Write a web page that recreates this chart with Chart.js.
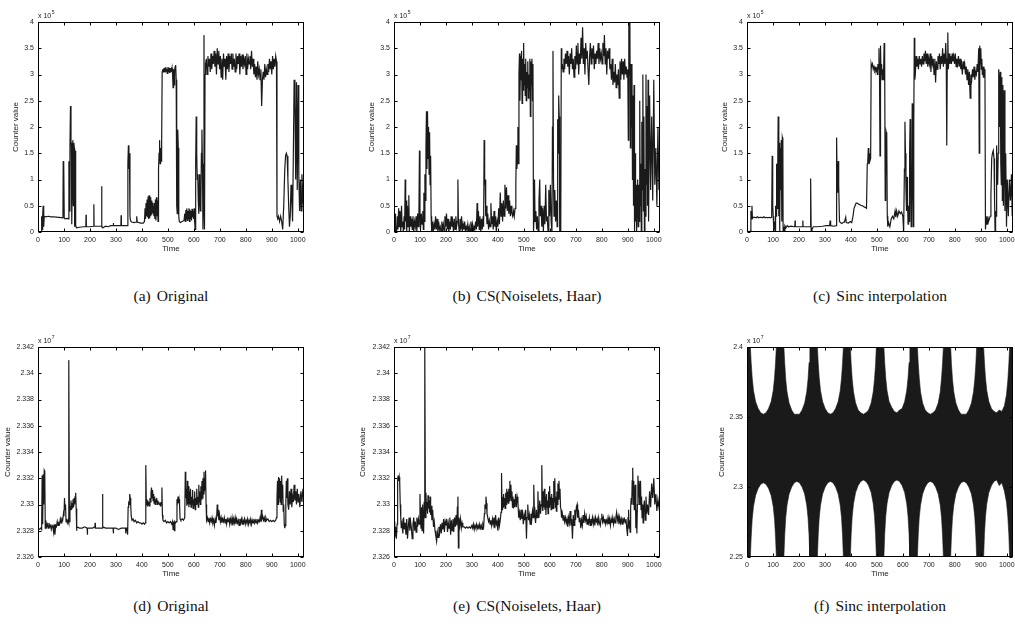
<!DOCTYPE html>
<html>
<head>
<meta charset="utf-8">
<script src="https://cdn.jsdelivr.net/npm/chart.js@4.4.0/dist/chart.umd.min.js"></script>
<style>
  html, body { margin: 0; padding: 0; background: #fff; }
  body { width: 1015px; height: 624px; position: relative; overflow: hidden; }
  canvas { position: absolute; }
  .cap {
    position: absolute;
    font-family: "Liberation Serif", "DejaVu Serif", serif;
    font-size: 15.5px;
    color: #111;
    white-space: nowrap;
    transform: translate(-50%, -50%);
  }
  .cap b { font-weight: normal; margin-right: 6px; }
</style>
</head>
<body>
<script>
// ---- tick values -------------------------------------------------------
const timeTicks = [0, 100, 200, 300, 400, 500, 600, 700, 800, 900, 1000];
const counterTicksTop = [0, 0.5, 1, 1.5, 2, 2.5, 3, 3.5, 4];          // x 10^5
const counterTicksBottom = [2.326, 2.328, 2.33, 2.332, 2.334, 2.336, 2.338, 2.34, 2.342]; // x 10^7
const sincTicksBottom = [2.25, 2.3, 2.35, 2.4];                       // x 10^7

// ---- series: [time, counter] ------------------------------------------
// (a) original counter trace, x 10^5
const originalTop = [[0,0.02],[6,0],[12,0.01],[14,0.3],[16,0.05],[18,0.32],[20,0.5],[22,0.1],[24,0.3],[30,0.29],[40,0.3],[50,0.29],[60,0.29],[70,0.285],[80,0.28],[90,0.275],[96,0.27],[97,1.35],[99,1.3],[101,0.27],[104,0.25],[112,0.26],[118,0.25],[119,1.35],[121,0.4],[123,1.6],[125,2.4],[127,1.65],[128,1.7],[130,0.15],[132,1.0],[134,1.75],[136,0.5],[138,1.7],[140,1.6],[141,0.1],[143,1.55],[145,0.12],[148,0.08],[160,0.09],[175,0.1],[184,0.1],[185,0.33],[186,0.1],[200,0.1],[214,0.11],[215,0.53],[216,0.11],[230,0.11],[244,0.11],[245,0.87],[246,0.1],[250,0.08],[260,0.11],[270,0.1],[280,0.12],[289,0.12],[290,0.17],[291,0.12],[305,0.12],[319,0.12],[320,0.32],[321,0.12],[335,0.12],[344,0.12],[346,1.3],[348,1.65],[350,1.2],[352,1.5],[354,0.3],[356,0.22],[360,0.19],[370,0.18],[378,0.19],[380,0.3],[382,0.19],[395,0.17],[405,0.17],[410,0.2],[412,0.45],[414,0.25],[416,0.55],[418,0.3],[420,0.62],[422,0.28],[424,0.68],[426,0.25],[428,0.7],[430,0.26],[432,0.66],[434,0.3],[436,0.6],[438,0.33],[440,0.56],[442,0.36],[444,0.5],[446,0.3],[448,0.55],[450,0.25],[452,0.62],[454,0.22],[456,0.66],[458,0.3],[460,0.6],[462,0.2],[464,1.2],[466,1.5],[468,1.75],[470,1.3],[472,1.6],[474,1.35],[476,1.7],[478,3.05],[480,3.1],[482,3.05],[484,3.12],[486,3.06],[488,3.13],[490,3.05],[492,3.14],[494,3.08],[496,3.1],[498,3.02],[500,3.14],[502,3.06],[504,3.13],[506,3.04],[508,3.12],[510,3.07],[512,3.1],[514,3.05],[516,3.12],[518,3.0],[520,2.75],[522,3.1],[524,2.8],[526,3.08],[528,3.15],[530,3.18],[532,2.9],[534,0.5],[536,0.35],[538,1.95],[540,1.6],[542,0.3],[544,0.2],[548,0.18],[555,0.2],[562,0.22],[565,0.35],[567,0.2],[569,0.42],[571,0.25],[573,0.45],[575,0.22],[577,0.4],[579,0.26],[581,0.45],[583,0.2],[585,0.43],[587,0.25],[589,0.4],[591,0.22],[593,0.44],[595,0.28],[597,0.4],[599,0.25],[601,0.45],[603,0.2],[605,0.05],[607,1.3],[609,2.2],[611,1.5],[613,1.0],[615,1.1],[617,0.6],[619,0.35],[621,1.1],[623,0.6],[625,0.4],[627,0.5],[629,1.5],[631,1.95],[633,1.3],[635,0.05],[637,0.5],[639,3.75],[641,0.05],[643,3.0],[645,3.2],[648,3.3],[651,3.0],[654,3.35],[657,3.15],[660,3.3],[663,3.05],[666,3.4],[669,3.1],[672,3.35],[675,3.2],[678,3.45],[681,3.15],[684,3.4],[687,3.0],[690,3.5],[693,3.2],[696,3.45],[699,3.1],[702,3.35],[705,2.95],[708,3.3],[711,2.9],[714,3.4],[717,3.15],[720,3.3],[723,2.9],[726,3.35],[729,3.1],[732,3.4],[735,3.05],[738,3.35],[741,3.2],[744,3.4],[747,3.1],[750,3.4],[753,3.15],[756,3.3],[759,3.05],[762,3.4],[765,3.1],[768,3.35],[771,3.2],[774,3.4],[777,3.0],[780,3.35],[783,3.15],[786,3.38],[789,3.1],[792,3.3],[795,3.2],[798,3.35],[801,3.0],[804,3.4],[807,3.1],[810,3.3],[813,3.2],[816,3.35],[819,3.1],[822,3.45],[825,3.15],[828,3.3],[831,3.0],[834,3.2],[837,2.95],[840,3.15],[843,2.9],[846,3.25],[849,3.0],[852,3.1],[855,2.9],[858,3.1],[861,2.4],[864,2.9],[867,3.05],[870,2.9],[873,3.2],[876,2.95],[879,3.1],[882,3.0],[885,3.2],[888,3.05],[891,3.3],[894,3.1],[897,3.25],[900,3.0],[903,3.35],[906,3.1],[909,3.3],[912,3.15],[915,3.35],[918,3.25],[920,0.3],[923,0.25],[926,0.3],[930,0.2],[934,0.3],[938,0.2],[942,0.05],[946,0.5],[950,1.2],[953,1.45],[956,1.5],[959,1.45],[962,1.0],[965,0.5],[968,0.1],[971,0.3],[974,0.9],[977,0.6],[980,0.2],[983,1.5],[986,2.9],[989,2.5],[992,1.0],[995,2.85],[998,0.8],[1001,2.8],[1004,1.1],[1007,0.4],[1010,1.0],[1013,0.4],[1016,1.1],[1020,0.6],[1024,0.4]];

// (b) CS(Noiselets, Haar) reconstruction, x 10^5
const csTop = [[0,0.3],[2,0.05],[4,0.35],[6,0],[8,0.1],[10,0],[13,0.3],[15,0.05],[18,0.45],[20,0.1],[23,0.4],[26,0],[29,0.5],[31,0.1],[34,0.2],[36,0],[39,0.3],[41,0.05],[43,1.0],[45,0.2],[47,0.6],[49,0],[52,0.5],[54,0.1],[57,0.7],[59,0],[62,0.3],[65,0.1],[68,0.25],[70,0.05],[73,0.3],[76,0],[79,0.2],[82,0.1],[85,0.3],[88,0],[91,0.35],[94,0.1],[96,0.4],[98,1.55],[100,0.3],[102,0.05],[105,0.35],[108,0.15],[111,0.4],[113,0.05],[115,0.75],[117,0.2],[119,1.1],[121,0.6],[123,1.6],[125,2.3],[127,1.2],[129,2.3],[131,1.4],[133,2.0],[135,1.1],[137,1.9],[139,0.9],[141,1.45],[143,0.3],[145,0],[148,0.2],[151,0],[154,0.15],[157,0.05],[160,0.3],[163,0.05],[166,0.25],[169,0],[172,0.2],[175,0.05],[178,0.1],[181,0],[184,0.2],[187,0.05],[190,0.15],[193,0],[196,0.3],[199,0.1],[202,0.35],[205,0.05],[208,0.25],[211,0],[214,0.2],[217,0.05],[220,0.3],[223,0.1],[226,0.2],[229,0],[232,0.25],[235,0.05],[238,0.3],[241,0.1],[244,0.2],[246,1.0],[248,0.2],[251,0],[254,0.25],[257,0.05],[260,0.3],[263,0],[266,0.15],[269,0.05],[272,0.2],[275,0],[278,0.1],[281,0.05],[284,0.15],[287,0],[290,0.1],[293,0],[296,0.2],[299,0.05],[302,0.15],[305,0],[308,0.1],[311,0.05],[314,0.2],[317,0.05],[320,0.55],[322,0.1],[325,0.4],[328,0.05],[331,0.3],[334,0],[337,0.25],[340,0.05],[343,0.3],[345,0.1],[347,1.75],[349,0.9],[351,1.0],[353,0.3],[355,0.5],[358,0.15],[361,0.35],[364,0.05],[367,0.2],[370,0.1],[373,0.55],[376,0.15],[379,0.3],[382,0.05],[385,0.4],[388,0.1],[391,0.3],[394,0],[397,0.2],[400,0.1],[403,0.45],[406,0.15],[409,0.75],[412,0.3],[415,0.55],[418,0.2],[421,0.6],[424,0.3],[427,0.9],[430,0.45],[433,0.85],[436,0.4],[439,0.7],[442,0.35],[445,0.6],[448,0.3],[451,0.5],[454,0.35],[457,0.3],[460,0.4],[463,0.3],[466,0.45],[469,0.9],[471,1.65],[473,1.2],[475,1.35],[477,2.0],[479,1.3],[481,3.0],[483,3.4],[485,2.5],[487,3.35],[489,2.9],[491,3.45],[493,2.45],[495,3.3],[497,2.7],[499,3.6],[501,2.8],[503,3.2],[505,2.6],[507,3.3],[509,2.5],[511,3.05],[513,2.75],[515,3.25],[517,2.55],[519,3.0],[521,2.7],[523,3.3],[525,2.2],[527,3.25],[529,2.8],[531,3.3],[533,2.5],[535,3.2],[537,0],[539,0.3],[541,1.0],[543,0.2],[546,0.4],[549,0.05],[552,0.3],[555,0],[558,0.6],[561,1.0],[563,0.3],[566,0.5],[569,0.1],[572,0.45],[575,0],[578,0.5],[581,0.15],[584,0.9],[587,0.2],[590,0.3],[593,0],[596,0.8],[599,0.3],[602,0.9],[605,0.2],[608,0],[610,2.0],[612,3.45],[614,1.0],[616,0.3],[619,0.8],[622,0.2],[625,0.6],[628,0.1],[630,2.15],[632,1.5],[634,2.6],[636,2.2],[638,0],[642,0],[644,3.5],[646,3.1],[648,3.2],[651,3.05],[654,3.3],[657,3.1],[660,3.4],[663,3.2],[666,3.45],[669,3.15],[672,3.35],[675,3.0],[678,3.4],[681,3.2],[684,3.5],[687,3.1],[690,3.3],[693,2.95],[696,3.35],[699,3.1],[702,3.55],[705,3.2],[708,3.6],[711,3.0],[714,3.4],[717,3.2],[720,3.7],[723,3.3],[726,3.9],[729,3.2],[732,3.5],[735,3.0],[738,3.6],[741,3.3],[744,3.45],[747,3.1],[750,2.8],[753,3.35],[756,3.6],[759,3.2],[762,3.5],[765,3.3],[768,3.55],[771,3.1],[774,3.4],[777,3.2],[780,3.45],[783,3.3],[786,3.6],[789,3.2],[792,3.5],[795,3.3],[798,3.4],[801,3.2],[804,3.6],[807,3.35],[810,3.75],[813,3.2],[816,3.5],[819,3.0],[822,3.45],[825,3.3],[828,3.5],[831,3.1],[834,3.2],[837,2.9],[840,3.3],[843,2.8],[846,3.05],[849,2.85],[852,3.2],[855,2.75],[858,3.0],[861,2.8],[864,3.1],[867,2.55],[870,3.25],[873,2.9],[876,3.3],[879,3.0],[882,3.25],[885,2.9],[888,3.3],[891,3.0],[894,3.15],[897,2.95],[900,3.1],[902,1.75],[904,4.1],[906,3.0],[908,4.1],[910,1.6],[912,3.2],[914,2.0],[916,3.2],[918,1.0],[920,2.6],[922,0.5],[924,2.8],[926,0],[928,1.5],[930,0.2],[932,0.9],[934,0],[936,0.6],[938,1.0],[940,0.1],[942,0.9],[944,0.2],[946,2.5],[948,0.5],[950,1.3],[952,0],[954,2.1],[956,0.8],[958,3.0],[960,0.4],[962,2.2],[964,0],[966,1.2],[968,0.3],[970,3.0],[972,0.9],[974,2.4],[976,0.5],[978,2.9],[980,0.2],[984,2.6],[988,0.8],[992,2.2],[996,0.6],[1000,2.9],[1004,0.9],[1008,1.6],[1012,0.5],[1016,2.0],[1020,0.8],[1024,1.2]];

// (c) sinc interpolation, x 10^5
const sincTop = [[0,0],[10,0],[13,0.02],[15,0.4],[17,0.25],[19,0.5],[21,0.26],[24,0.28],[30,0.28],[35,0.27],[40,0.29],[45,0.27],[50,0.28],[55,0.28],[60,0.27],[65,0.29],[70,0.27],[75,0.28],[80,0.27],[85,0.28],[90,0.27],[95,0.28],[97,1.45],[99,0.5],[101,0.3],[103,0.05],[106,0.2],[108,0],[110,0.5],[112,0.3],[114,1.3],[116,0.45],[118,1.0],[120,2.2],[122,1.6],[123,0.3],[125,1.7],[126,0],[128,1.6],[130,0.8],[132,1.75],[134,0.2],[136,1.8],[138,1.75],[139,0],[141,0.1],[143,0.03],[146,0.12],[150,0.08],[155,0.12],[160,0.1],[170,0.11],[180,0.1],[184,0.1],[185,0.22],[186,0.1],[200,0.1],[214,0.1],[215,0.22],[216,0.1],[230,0.1],[244,0.1],[245,1.02],[247,0.02],[250,0.05],[255,0.1],[270,0.1],[290,0.11],[305,0.12],[318,0.12],[320,0.22],[322,0.12],[335,0.11],[343,0.12],[345,1.8],[347,0.9],[349,0.75],[351,1.35],[353,0.9],[356,0.2],[360,0.18],[365,0.16],[370,0.18],[375,0.19],[380,0.28],[382,0.18],[390,0.17],[398,0.2],[403,0.18],[408,0.3],[412,0.45],[416,0.5],[420,0.55],[425,0.55],[430,0.53],[435,0.52],[440,0.5],[445,0.5],[450,0.48],[455,0.47],[460,0.45],[463,1.3],[465,1.35],[467,1.6],[469,1.3],[471,1.5],[473,1.35],[476,1.4],[478,3.2],[480,3.15],[483,3.2],[486,3.1],[489,3.15],[492,3.08],[495,3.12],[498,3.05],[500,3.15],[502,3.0],[504,3.2],[506,3.1],[508,3.5],[510,3.05],[512,1.45],[514,3.55],[516,3.0],[518,3.2],[520,2.9],[522,3.1],[524,2.9],[526,3.1],[528,3.6],[530,3.3],[532,0.6],[534,1.0],[536,1.9],[538,1.85],[540,0.3],[542,0.1],[545,0.18],[550,0.1],[555,0.25],[560,0.3],[565,0.25],[570,0.4],[573,0.28],[576,0.4],[580,0.3],[585,0.4],[590,0.35],[595,0.38],[600,0.3],[603,0],[606,1.2],[608,2.1],[610,1.5],[612,0.8],[614,0.4],[616,1.05],[618,0.6],[620,0.15],[622,0.5],[624,0.2],[626,1.5],[628,2.15],[630,1.0],[632,0.1],[634,0.5],[636,2.45],[638,1.0],[640,0.1],[642,2.0],[644,3.7],[646,2.9],[648,3.0],[651,3.35],[654,3.15],[657,3.3],[660,3.1],[663,3.35],[666,3.2],[669,3.3],[672,3.15],[675,3.35],[678,3.2],[681,3.4],[684,3.25],[687,3.45],[690,3.2],[693,3.4],[696,3.15],[699,3.3],[702,3.2],[705,3.4],[708,3.05],[711,3.35],[714,3.2],[717,3.3],[720,3.0],[723,3.3],[726,2.85],[729,3.25],[732,3.1],[735,3.35],[738,3.2],[741,3.4],[744,3.1],[747,3.35],[750,3.2],[753,3.5],[756,3.15],[759,3.4],[762,3.2],[765,3.6],[767,3.3],[769,1.65],[771,3.3],[773,3.8],[775,3.1],[778,3.4],[781,3.2],[784,3.35],[787,3.2],[790,3.4],[793,3.25],[796,3.35],[799,3.2],[802,3.4],[805,3.15],[808,3.3],[811,3.2],[814,3.35],[817,3.15],[820,3.3],[823,3.1],[826,3.2],[829,3.0],[832,3.25],[835,3.1],[838,3.2],[841,3.0],[844,3.15],[847,2.9],[850,3.1],[853,2.8],[856,3.05],[859,2.55],[862,3.0],[865,2.9],[868,3.1],[871,2.95],[874,3.15],[877,2.9],[880,3.05],[883,3.0],[886,3.2],[889,3.05],[892,3.5],[894,1.5],[896,3.55],[898,3.2],[900,3.5],[902,3.1],[904,3.3],[906,3.0],[908,3.15],[910,2.95],[912,3.15],[914,3.05],[916,3.1],[918,0.05],[921,0.3],[924,0.15],[927,0.3],[930,0.2],[933,0.25],[936,0.3],[939,0.7],[942,1.4],[945,1.5],[948,1.55],[951,1.4],[953,0.6],[955,0],[957,0.4],[959,0.3],[961,1.65],[963,1.0],[965,0.9],[967,1.5],[969,3.1],[971,2.9],[973,2.0],[975,3.05],[977,1.3],[979,0.9],[981,2.95],[983,0.6],[985,2.8],[987,0.5],[990,2.7],[993,0.4],[996,1.5],[999,0.1],[1002,1.0],[1006,0.3],[1010,1.0],[1014,0.6],[1018,1.1],[1021,0.3],[1024,0.8]];

// (d) original counter trace, x 10^7
const originalBottom = [[0,2.3281],[5,2.3281],[10,2.3282],[14,2.3281],[16,2.3322],[18,2.3285],[20,2.3323],[22,2.33],[24,2.3326],[26,2.3325],[28,2.3282],[30,2.3288],[33,2.3283],[36,2.3285],[39,2.3282],[42,2.3286],[45,2.3283],[48,2.3284],[51,2.3281],[54,2.3284],[57,2.3283],[60,2.3279],[62,2.3285],[65,2.3277],[68,2.3284],[71,2.3283],[74,2.3287],[77,2.3284],[80,2.3286],[83,2.3285],[86,2.3289],[89,2.3286],[92,2.3289],[95,2.3288],[98,2.3293],[100,2.3291],[102,2.3305],[104,2.3296],[106,2.33],[108,2.3287],[110,2.3289],[113,2.3286],[116,2.3288],[118,2.3286],[119,2.341],[121,2.3287],[123,2.3299],[125,2.3296],[127,2.3303],[129,2.3296],[131,2.3301],[133,2.3297],[135,2.3304],[137,2.3298],[139,2.3305],[141,2.33],[143,2.3306],[145,2.3309],[147,2.3297],[148,2.328],[150,2.3283],[160,2.3282],[170,2.3282],[180,2.3283],[189,2.3282],[190,2.3277],[191,2.3282],[200,2.3282],[210,2.3282],[219,2.3283],[220,2.3286],[221,2.3282],[230,2.3282],[240,2.3282],[247,2.3282],[248,2.3308],[250,2.3283],[260,2.3282],[270,2.3282],[280,2.3282],[289,2.3282],[290,2.3278],[291,2.3282],[300,2.3282],[310,2.3281],[320,2.3282],[330,2.3282],[337,2.3282],[338,2.3278],[340,2.3282],[343,2.3282],[345,2.3277],[347,2.3298],[349,2.3301],[351,2.33],[353,2.3308],[355,2.3305],[357,2.3299],[359,2.3291],[362,2.3288],[366,2.3289],[370,2.3287],[375,2.3288],[380,2.3286],[385,2.3287],[390,2.3286],[395,2.3286],[400,2.3285],[405,2.3286],[410,2.3285],[413,2.3286],[415,2.333],[417,2.33],[419,2.3304],[421,2.3299],[423,2.3303],[425,2.33],[427,2.3302],[429,2.3299],[431,2.3305],[433,2.3302],[435,2.3309],[437,2.3313],[439,2.3305],[441,2.3311],[443,2.3303],[445,2.3308],[447,2.3301],[449,2.3306],[451,2.33],[453,2.3304],[455,2.3302],[457,2.3305],[459,2.33],[461,2.3303],[463,2.3301],[465,2.3302],[467,2.33],[469,2.3301],[471,2.3299],[473,2.3302],[475,2.33],[477,2.3313],[479,2.3292],[481,2.3288],[485,2.3287],[490,2.3288],[495,2.3286],[500,2.3287],[505,2.3286],[510,2.3287],[515,2.3285],[518,2.3287],[520,2.3281],[522,2.3287],[525,2.328],[527,2.3287],[530,2.3286],[533,2.3287],[535,2.3304],[537,2.3302],[539,2.3306],[541,2.3301],[543,2.3304],[545,2.33],[547,2.3289],[550,2.3288],[555,2.3289],[560,2.3288],[565,2.329],[567,2.3325],[569,2.3305],[571,2.3312],[573,2.3299],[575,2.3318],[577,2.33],[579,2.3314],[581,2.3298],[583,2.331],[585,2.33],[587,2.3312],[589,2.3298],[591,2.3306],[593,2.33],[595,2.3311],[597,2.3297],[599,2.3304],[601,2.3299],[603,2.331],[605,2.3296],[607,2.3305],[609,2.33],[611,2.3312],[613,2.3301],[615,2.3306],[617,2.3298],[619,2.3315],[621,2.3302],[623,2.331],[625,2.33],[627,2.3314],[629,2.3304],[631,2.3318],[633,2.3305],[635,2.332],[637,2.3308],[639,2.3325],[641,2.331],[643,2.332],[645,2.3326],[647,2.33],[649,2.3288],[652,2.329],[655,2.3287],[658,2.329],[661,2.3286],[664,2.3289],[667,2.3287],[670,2.329],[673,2.3286],[676,2.3288],[679,2.3284],[682,2.3289],[685,2.3286],[688,2.3291],[690,2.33],[692,2.3291],[694,2.3296],[696,2.3288],[699,2.3292],[702,2.3287],[705,2.329],[708,2.3286],[711,2.3289],[714,2.3287],[717,2.329],[720,2.3286],[723,2.3289],[726,2.3285],[729,2.3289],[732,2.3287],[735,2.329],[738,2.3285],[741,2.3289],[744,2.3286],[747,2.329],[750,2.3284],[753,2.3289],[756,2.3286],[759,2.329],[762,2.3285],[765,2.3289],[768,2.3286],[771,2.3288],[774,2.3284],[777,2.3289],[780,2.3286],[783,2.3289],[786,2.3285],[789,2.3288],[792,2.3286],[795,2.3289],[798,2.3285],[801,2.3288],[804,2.3286],[807,2.3289],[810,2.3285],[813,2.3288],[816,2.3286],[819,2.3289],[822,2.3285],[825,2.3288],[828,2.3286],[831,2.3289],[834,2.3286],[837,2.3288],[840,2.3286],[843,2.3289],[846,2.3286],[849,2.3288],[852,2.3287],[855,2.329],[858,2.3287],[860,2.3296],[862,2.3289],[865,2.3291],[868,2.3288],[871,2.329],[874,2.3287],[877,2.329],[880,2.3288],[885,2.3289],[890,2.3287],[895,2.3288],[900,2.3287],[905,2.3288],[910,2.3287],[915,2.3288],[918,2.329],[920,2.3305],[922,2.3318],[924,2.33],[926,2.3321],[928,2.3305],[930,2.332],[932,2.3302],[934,2.3318],[936,2.33],[938,2.3322],[940,2.3305],[942,2.3315],[944,2.3295],[946,2.33],[948,2.3285],[950,2.3282],[952,2.3284],[954,2.33],[956,2.3318],[958,2.3305],[960,2.332],[962,2.33],[965,2.3296],[968,2.331],[971,2.33],[974,2.3312],[977,2.3298],[980,2.3306],[983,2.3302],[986,2.3315],[989,2.3303],[992,2.331],[995,2.33],[998,2.3312],[1001,2.3302],[1004,2.3308],[1008,2.3298],[1012,2.331],[1016,2.3302],[1020,2.3312],[1024,2.3305]];

// (e) CS(Noiselets, Haar) reconstruction, x 10^7
const csBottom = [[0,2.3287],[3,2.3275],[6,2.3283],[9,2.3274],[12,2.3285],[14,2.3318],[16,2.3322],[18,2.3318],[20,2.3321],[22,2.3317],[24,2.33],[26,2.329],[28,2.3282],[31,2.3286],[34,2.3278],[37,2.329],[40,2.3281],[43,2.3286],[46,2.3277],[49,2.3289],[52,2.3274],[55,2.3283],[58,2.329],[61,2.328],[64,2.3287],[67,2.3282],[70,2.3274],[73,2.3285],[76,2.329],[79,2.328],[82,2.3287],[85,2.3279],[88,2.329],[91,2.3283],[94,2.3289],[97,2.3285],[100,2.3308],[102,2.329],[104,2.3282],[106,2.3298],[108,2.328],[110,2.33],[112,2.3288],[114,2.3278],[116,2.3302],[118,2.329],[119,2.342],[121,2.329],[123,2.3309],[125,2.3296],[127,2.3302],[129,2.3293],[131,2.3307],[133,2.3297],[135,2.3303],[137,2.3294],[139,2.3306],[141,2.3292],[143,2.3299],[146,2.3288],[149,2.3296],[152,2.3283],[155,2.3287],[158,2.328],[161,2.3276],[164,2.3272],[167,2.3279],[170,2.3275],[173,2.3283],[176,2.3279],[179,2.3285],[182,2.3278],[185,2.3286],[188,2.3281],[191,2.3289],[194,2.3279],[197,2.3287],[200,2.3284],[203,2.3289],[206,2.3279],[209,2.3286],[212,2.3282],[215,2.329],[218,2.3277],[221,2.3288],[224,2.328],[227,2.3289],[230,2.3279],[233,2.329],[236,2.3283],[239,2.3292],[242,2.3284],[244,2.3298],[246,2.3306],[248,2.3267],[250,2.329],[253,2.3284],[256,2.3289],[259,2.3282],[262,2.3286],[265,2.3283],[270,2.3283],[275,2.3282],[280,2.3283],[285,2.3282],[290,2.3283],[295,2.3282],[300,2.3284],[303,2.3282],[306,2.3285],[309,2.3281],[312,2.3284],[315,2.3282],[318,2.3285],[321,2.3282],[324,2.3284],[327,2.3281],[330,2.3285],[333,2.3282],[336,2.3284],[339,2.3281],[342,2.3285],[345,2.3283],[348,2.3293],[350,2.33],[352,2.3297],[354,2.3306],[356,2.3301],[358,2.3293],[361,2.329],[364,2.3287],[367,2.3289],[370,2.3285],[373,2.3288],[376,2.3284],[379,2.3289],[382,2.3285],[385,2.329],[388,2.3282],[391,2.3292],[394,2.3285],[397,2.3287],[400,2.328],[403,2.329],[406,2.3284],[409,2.3288],[412,2.3294],[414,2.3324],[416,2.3296],[418,2.3306],[420,2.3298],[422,2.3308],[424,2.3299],[426,2.3305],[428,2.3297],[430,2.3309],[432,2.33],[434,2.3312],[436,2.3302],[438,2.331],[440,2.3301],[442,2.3312],[444,2.3303],[446,2.3318],[448,2.3305],[450,2.3315],[452,2.3303],[454,2.331],[456,2.3298],[458,2.3306],[460,2.3297],[462,2.3304],[465,2.3298],[468,2.3308],[471,2.3298],[474,2.3306],[477,2.3302],[480,2.329],[483,2.3294],[486,2.3288],[489,2.3296],[492,2.3289],[495,2.3293],[498,2.3285],[501,2.3292],[504,2.3288],[507,2.3296],[510,2.3274],[512,2.329],[515,2.33],[518,2.3288],[521,2.3292],[524,2.3285],[527,2.3293],[530,2.3288],[533,2.3295],[536,2.329],[538,2.3315],[540,2.3298],[542,2.3292],[545,2.3286],[548,2.3296],[551,2.329],[554,2.331],[556,2.3295],[558,2.329],[561,2.3303],[564,2.3293],[567,2.33],[569,2.333],[571,2.33],[573,2.3295],[575,2.331],[577,2.3298],[579,2.3312],[581,2.3296],[583,2.3306],[585,2.3292],[587,2.3308],[589,2.3298],[591,2.3303],[593,2.3293],[595,2.331],[597,2.3298],[599,2.3314],[601,2.33],[603,2.3306],[605,2.3296],[607,2.3308],[609,2.3297],[611,2.3305],[613,2.3297],[615,2.3318],[617,2.3302],[619,2.332],[621,2.3298],[623,2.3306],[625,2.3295],[627,2.331],[629,2.33],[631,2.3316],[633,2.3304],[635,2.3318],[637,2.3306],[639,2.3312],[641,2.3298],[643,2.3296],[645,2.329],[648,2.3293],[651,2.3288],[654,2.3292],[657,2.3287],[660,2.329],[663,2.3286],[666,2.3289],[669,2.3283],[672,2.329],[675,2.3286],[678,2.3295],[681,2.3284],[684,2.3289],[687,2.3274],[690,2.3292],[693,2.3284],[696,2.3296],[699,2.3288],[702,2.3298],[705,2.33],[707,2.329],[710,2.3296],[713,2.3287],[716,2.329],[719,2.3282],[722,2.3288],[725,2.3284],[728,2.3292],[731,2.3286],[734,2.3293],[737,2.3288],[740,2.3291],[743,2.3285],[746,2.3289],[749,2.3286],[752,2.329],[755,2.3284],[758,2.3289],[761,2.3286],[764,2.329],[767,2.3285],[770,2.3289],[773,2.3284],[776,2.329],[779,2.3287],[782,2.3289],[785,2.3284],[788,2.329],[791,2.3286],[794,2.3284],[797,2.3289],[800,2.3293],[803,2.3287],[806,2.329],[809,2.3286],[812,2.3289],[815,2.3285],[818,2.3288],[821,2.3286],[824,2.329],[827,2.3285],[830,2.3289],[833,2.3284],[836,2.3289],[839,2.3286],[842,2.329],[845,2.3285],[848,2.3289],[851,2.3286],[854,2.329],[857,2.3294],[860,2.3288],[863,2.3291],[866,2.3285],[869,2.329],[872,2.3286],[875,2.3289],[878,2.3285],[881,2.329],[884,2.3287],[887,2.3289],[890,2.3286],[893,2.3289],[896,2.3282],[899,2.3276],[901,2.329],[903,2.3296],[905,2.3282],[907,2.3288],[909,2.3279],[911,2.3297],[913,2.3305],[915,2.33],[917,2.3318],[919,2.3328],[921,2.33],[923,2.3318],[925,2.3296],[927,2.331],[929,2.3315],[931,2.3282],[933,2.3296],[935,2.3278],[937,2.33],[939,2.3322],[941,2.3306],[943,2.3318],[945,2.33],[947,2.3312],[949,2.3318],[951,2.3296],[953,2.3306],[955,2.329],[957,2.33],[959,2.3286],[961,2.3298],[964,2.3303],[967,2.3288],[970,2.3306],[973,2.3293],[976,2.33],[980,2.3292],[984,2.331],[988,2.3298],[992,2.3316],[996,2.3305],[1000,2.332],[1004,2.33],[1008,2.3308],[1012,2.3295],[1016,2.3304],[1020,2.3298],[1024,2.3306]];

// (f) sinc interpolation: the trace oscillates so fast that it fills a band;
// the band is drawn from its upper and lower envelopes, x 10^7
const sincEnvTime = [0,
  13,16,20,25,33,43,53,63,73,83,93,101,106,110,113,
  142,145,149,154,162,172,182,192,202,212,222,230,235,239,242,
  271,274,278,283,291,301,311,321,331,341,351,359,364,368,371,
  398,401,405,410,418,428,438,448,458,468,478,486,491,495,498,
  527,530,534,539,547,557,567,577,587,597,607,615,620,624,627,
  656,659,663,668,676,686,696,706,716,726,736,744,749,753,756,
  784,787,791,796,804,814,824,834,844,854,864,872,877,881,884,
  911,914,918,923,931,941,951,961,971,981,991,999,1004,1008,1011,
  1024];
const sincEnvUpper = [2.4,
  2.4,2.389,2.378,2.369,2.361,2.356,2.353,2.352,2.353,2.356,2.361,2.369,2.378,2.389,2.4,
  2.4,2.389,2.377,2.368,2.36,2.355,2.352,2.352,2.352,2.355,2.36,2.368,2.377,2.389,2.4,
  2.4,2.389,2.378,2.369,2.361,2.356,2.353,2.352,2.353,2.356,2.361,2.369,2.378,2.389,2.4,
  2.4,2.388,2.377,2.368,2.36,2.355,2.353,2.352,2.353,2.355,2.36,2.368,2.377,2.388,2.4,
  2.4,2.389,2.378,2.369,2.361,2.357,2.354,2.353,2.355,2.356,2.361,2.369,2.378,2.389,2.4,
  2.4,2.389,2.378,2.368,2.36,2.355,2.353,2.352,2.353,2.355,2.36,2.368,2.378,2.389,2.4,
  2.4,2.388,2.377,2.368,2.36,2.355,2.352,2.352,2.352,2.355,2.36,2.368,2.377,2.388,2.4,
  2.4,2.389,2.378,2.369,2.361,2.356,2.354,2.353,2.355,2.354,2.358,2.366,2.376,2.388,2.4,
  2.4];
const sincEnvLower = [2.25,
  2.25,2.264,2.277,2.286,2.294,2.299,2.302,2.303,2.302,2.299,2.294,2.286,2.277,2.264,2.25,
  2.25,2.265,2.278,2.287,2.295,2.3,2.303,2.304,2.303,2.3,2.295,2.287,2.278,2.265,2.25,
  2.25,2.265,2.278,2.287,2.295,2.3,2.303,2.304,2.303,2.3,2.295,2.287,2.278,2.265,2.25,
  2.25,2.266,2.279,2.288,2.296,2.301,2.304,2.305,2.304,2.301,2.296,2.288,2.279,2.266,2.25,
  2.25,2.266,2.279,2.288,2.296,2.301,2.304,2.305,2.304,2.301,2.296,2.288,2.279,2.266,2.25,
  2.25,2.265,2.278,2.287,2.295,2.3,2.303,2.304,2.303,2.3,2.295,2.287,2.278,2.265,2.25,
  2.25,2.265,2.278,2.287,2.295,2.3,2.303,2.304,2.303,2.3,2.295,2.287,2.278,2.265,2.25,
  2.25,2.266,2.279,2.288,2.296,2.301,2.304,2.305,2.301,2.303,2.297,2.289,2.279,2.266,2.25,
  2.25];

// ---- figure layout -----------------------------------------------------
const INK = '#1a1a1a';
const PLOT_W = 266, PLOT_H = 210, TOP_PAD = 16, XAXIS_H = 22;

const panels = [
  { series: [originalTop], yMin: 0, yMax: 4, yTicks: counterTicksTop, exp: '5',
    left: 38, top: 22, titleX: 16, caption: ['(a)', 'Original'] },
  { series: [csTop], yMin: 0, yMax: 4, yTicks: counterTicksTop, exp: '5',
    left: 394, top: 22, titleX: 372, caption: ['(b)', 'CS(Noiselets, Haar)'] },
  { series: [sincTop], yMin: 0, yMax: 4, yTicks: counterTicksTop, exp: '5',
    left: 747, top: 22, titleX: 725, caption: ['(c)', 'Sinc interpolation'] },
  { series: [originalBottom], yMin: 2.326, yMax: 2.342, yTicks: counterTicksBottom, exp: '7',
    left: 38, top: 347, titleX: 8, caption: ['(d)', 'Original'] },
  { series: [csBottom], yMin: 2.326, yMax: 2.342, yTicks: counterTicksBottom, exp: '7',
    left: 394, top: 347, titleX: 363, caption: ['(e)', 'CS(Noiselets, Haar)'] },
  { band: [sincEnvTime, sincEnvLower, sincEnvUpper], yMin: 2.25, yMax: 2.4, yTicks: sincTicksBottom, exp: '7',
    left: 747, top: 347, titleX: 722, caption: ['(f)', 'Sinc interpolation'] }
];
const captionY = [296, 606];

// MATLAB-style box: frame, inward tick marks on all four sides, exponent note
const boxedAxes = {
  id: 'boxedAxes',
  afterDraw(chart, args, opts) {
    const { ctx, chartArea: a, scales: { x, y } } = chart;
    const L = Math.round(a.left) + 0.5, T = Math.round(a.top) + 0.5;
    const R = Math.round(a.right) - 0.5, B = Math.round(a.bottom) - 0.5;
    ctx.save();
    ctx.strokeStyle = '#000';
    ctx.lineWidth = 1;
    ctx.strokeRect(L, T, R - L, B - T);
    ctx.beginPath();
    x.ticks.forEach(t => {
      const px = Math.round(x.getPixelForValue(t.value)) + 0.5;
      ctx.moveTo(px, B); ctx.lineTo(px, B - 3);
      ctx.moveTo(px, T); ctx.lineTo(px, T + 3);
    });
    y.ticks.forEach(t => {
      const py = Math.round(y.getPixelForValue(t.value)) + 0.5;
      ctx.moveTo(L, py); ctx.lineTo(L + 3, py);
      ctx.moveTo(R, py); ctx.lineTo(R - 3, py);
    });
    ctx.stroke();
    ctx.fillStyle = '#222';
    ctx.textBaseline = 'alphabetic';
    ctx.font = '7px "Liberation Sans", Arial, sans-serif';
    ctx.fillText('x 10', a.left, a.top - 4);
    const w = ctx.measureText('x 10').width;
    ctx.font = '5px "Liberation Sans", Arial, sans-serif';
    ctx.fillText(opts.exp, a.left + w + 0.5, a.top - 8);
    ctx.restore();
  }
};

const fmt = v => String(Math.round(v * 10000) / 10000);

panels.forEach(p => {
  const canvasLeft = Math.round(p.titleX - 5);
  const yAxisW = p.left - canvasLeft;
  const cw = yAxisW + PLOT_W + 2;
  const ch = TOP_PAD + PLOT_H + XAXIS_H;
  const cv = document.createElement('canvas');
  cv.width = cw; cv.height = ch;
  cv.style.left = canvasLeft + 'px';
  cv.style.top = (p.top - TOP_PAD) + 'px';
  cv.style.width = cw + 'px'; cv.style.height = ch + 'px';
  document.body.appendChild(cv);

  let datasets;
  if (p.band) {
    const [tt, lo, hi] = p.band;
    datasets = [
      { data: tt.map((t, i) => ({ x: t, y: lo[i] })), borderColor: INK, borderWidth: 0.6, fill: false },
      { data: tt.map((t, i) => ({ x: t, y: hi[i] })), borderColor: INK, borderWidth: 0.6, fill: '-1', backgroundColor: INK }
    ];
  } else {
    datasets = p.series.map(s => ({ data: s, borderColor: INK, borderWidth: 1.2, fill: false }));
  }

  new Chart(cv, {
    type: 'line',
    data: { datasets },
    plugins: [boxedAxes],
    options: {
      responsive: false,
      animation: false,
      events: [],
      layout: { padding: { left: 0, right: 2, top: TOP_PAD, bottom: 0 } },
      elements: { point: { radius: 0 }, line: { tension: 0, borderJoinStyle: 'miter' } },
      plugins: { legend: { display: false }, tooltip: { enabled: false }, boxedAxes: { exp: p.exp } },
      scales: {
        x: {
          type: 'linear', min: 0, max: 1024,
          afterBuildTicks: s => { s.ticks = timeTicks.map(v => ({ value: v })); },
          afterFit: s => { s.height = XAXIS_H; s.paddingLeft = 0; s.paddingRight = 0; },
          grid: { display: false, drawTicks: false },
          border: { display: false },
          ticks: { autoSkip: false, maxRotation: 0, padding: 4, color: '#222',
                   font: { family: '"Liberation Sans", Arial, sans-serif', size: 7 },
                   callback: v => fmt(v) },
          title: { display: true, text: 'Time', color: '#222', padding: 0,
                   font: { family: '"Liberation Sans", Arial, sans-serif', size: 8 } }
        },
        y: {
          type: 'linear', min: p.yMin, max: p.yMax,
          afterBuildTicks: s => { s.ticks = p.yTicks.map(v => ({ value: v })); },
          afterFit: s => { s.width = yAxisW; s.paddingTop = 0; s.paddingBottom = 0; },
          grid: { display: false, drawTicks: false },
          border: { display: false },
          ticks: { autoSkip: false, padding: 4, color: '#222',
                   font: { family: '"Liberation Sans", Arial, sans-serif', size: 7 },
                   callback: v => fmt(v) },
          title: { display: true, text: 'Counter value', color: '#222', padding: 0,
                   font: { family: '"Liberation Sans", Arial, sans-serif', size: 8 } }
        }
      }
    }
  });

  const cap = document.createElement('div');
  cap.className = 'cap';
  cap.style.left = (p.left + PLOT_W / 2) + 'px';
  cap.style.top = captionY[p.top > 200 ? 1 : 0] + 'px';
  const tag = document.createElement('b');
  tag.textContent = p.caption[0];
  cap.appendChild(tag);
  cap.appendChild(document.createTextNode(p.caption[1]));
  document.body.appendChild(cap);
});
</script>
</body>
</html>
